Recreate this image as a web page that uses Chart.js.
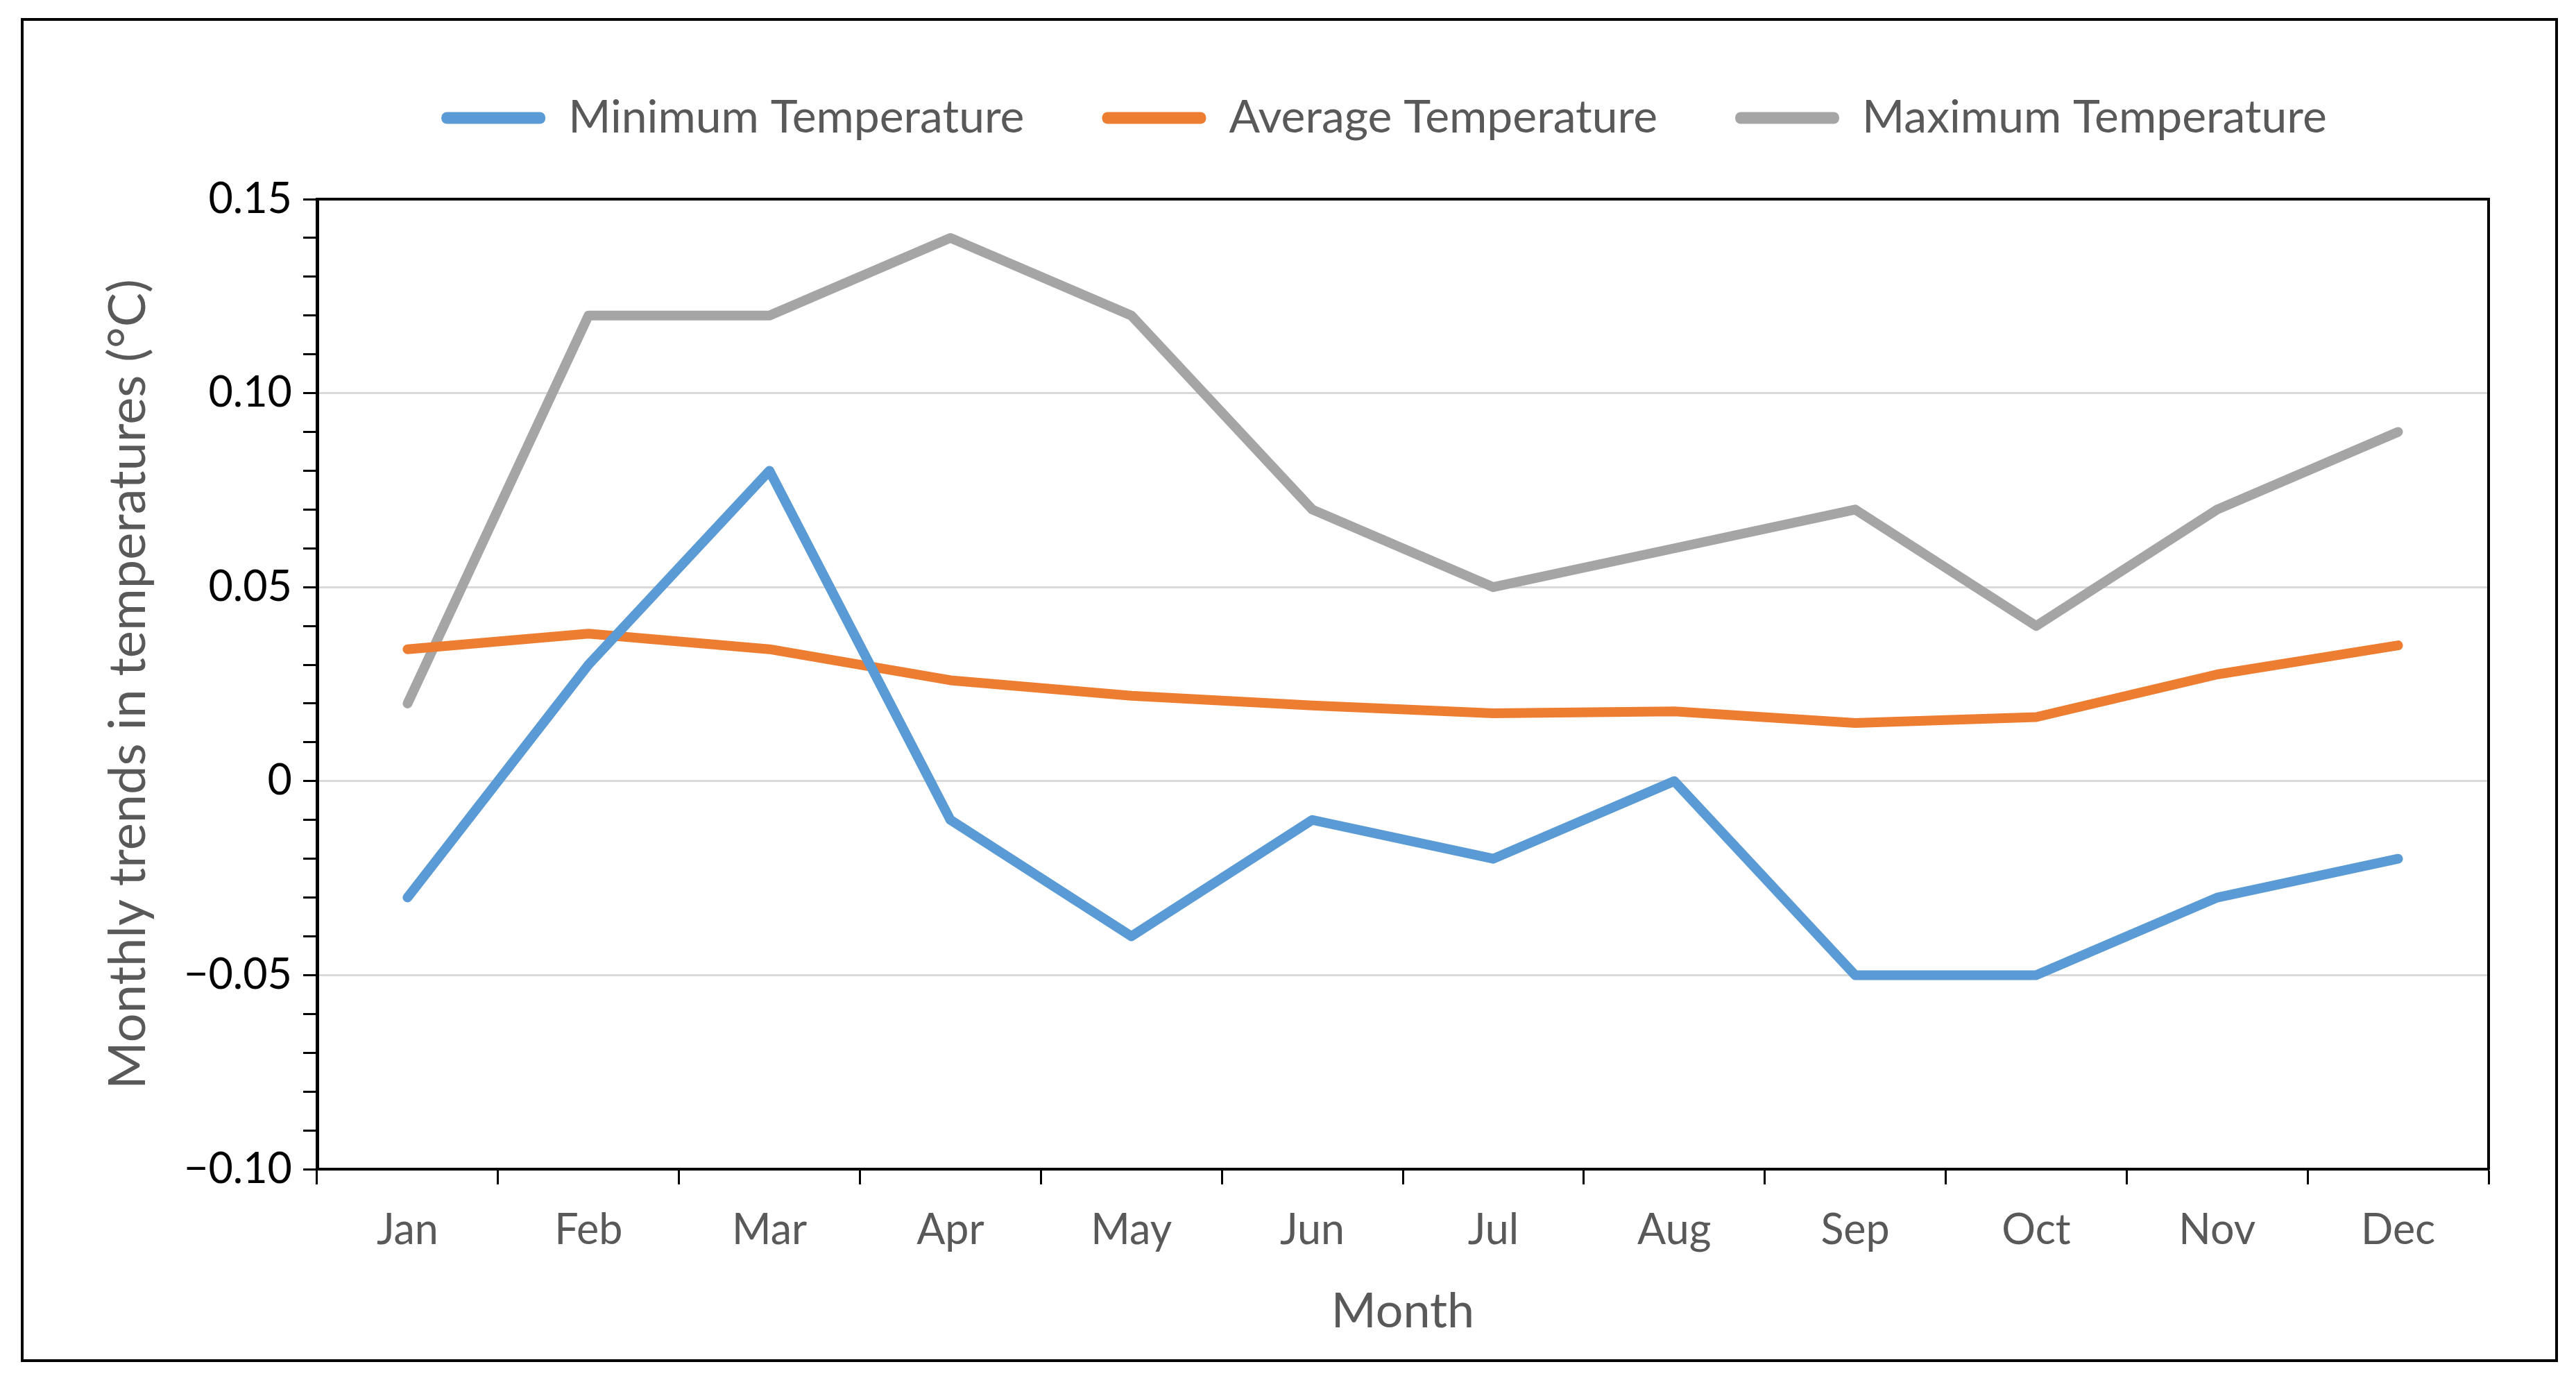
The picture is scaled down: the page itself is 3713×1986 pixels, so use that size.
<!DOCTYPE html>
<html>
<head>
<meta charset="utf-8">
<script src="https://cdn.jsdelivr.net/npm/chart.js@4/dist/chart.umd.min.js"></script>
<style>
  html, body { margin: 0; padding: 0; background: #fff; overflow: hidden; }
  #wrap { position: relative; width: 3713px; height: 1986px; overflow: hidden; }
  #c { position: absolute; left: 0; top: 0; }
  #frame {
    position: absolute; left: 30px; top: 26px; width: 3649px; height: 1929px;
    border: 4px solid #000; pointer-events: none;
  }
</style>
</head>
<body>
<div id="wrap">
  <canvas id="c" width="3849" height="1986" style="width:3849px;height:1986px"></canvas>
  <div id="frame"></div>
</div>
<script>
// data
const months = ['Jan', 'Feb', 'Mar', 'Apr', 'May', 'Jun', 'Jul', 'Aug', 'Sep', 'Oct', 'Nov', 'Dec'];
const minTemp = [-0.03, 0.03, 0.08, -0.01, -0.04, -0.01, -0.02, 0.00, -0.05, -0.05, -0.03, -0.02];
const avgTemp = [0.034, 0.038, 0.034, 0.026, 0.022, 0.0195, 0.0175, 0.018, 0.015, 0.0165, 0.0275, 0.035];
const maxTemp = [0.02, 0.12, 0.12, 0.14, 0.12, 0.07, 0.05, 0.06, 0.07, 0.04, 0.07, 0.09];
const yMin = -0.10, yMax = 0.15, yStep = 0.01;

const FONT = 'Lato, "Open Sans", sans-serif';
const GREY_TXT = '#595959';

function lineSet(label, data, color) {
    return {
        label: label,
        data: data,
        borderColor: color,
        backgroundColor: color,
        borderWidth: 14,
        pointRadius: 0,
        tension: 0,
        borderJoinStyle: 'round',
        borderCapStyle: 'round'
    };
}

// y tick label: only every 0.05 gets a number
function yLabel(value) {
    const v = Math.round(value * 100);
    if (v % 5 !== 0) return '';
    if (v === 0) return '0';
    return (v / 100).toFixed(2).replace('-', '\u2212');
}

const ctx = document.getElementById('c').getContext('2d');
new Chart(ctx, {
    type: 'line',
    data: {
        labels: months,
        datasets: [
            lineSet('Minimum Temperature', minTemp, '#5B9BD5'),
            lineSet('Average Temperature', avgTemp, '#ED7D31'),
            lineSet('Maximum Temperature', maxTemp, '#A5A5A5')
        ]
    },
    options: {
        responsive: false,
        animation: false,
        devicePixelRatio: 1,
        layout: { padding: { left: 141, top: 25, right: 0, bottom: 54 } },
        plugins: {
            tooltip: { enabled: false },
            legend: {
                position: 'top',
                labels: {
                    font: { family: FONT, size: 66 },
                    color: GREY_TXT,
                    boxWidth: 150,
                    boxHeight: 17,
                    padding: 112,
                    useBorderRadius: true,
                    borderRadius: 8,
                    generateLabels(chart) {
                        const items = Chart.defaults.plugins.legend.labels.generateLabels(chart);
                        items.forEach(it => { it.lineWidth = 0; });
                        return items;
                    }
                }
            }
        },
        scales: {
            x: {
                type: 'category',
                position: 'bottom',
                offset: true,
                afterFit: s => { s.height = 247; },
                grid: {
                    offset: true,
                    drawOnChartArea: false,
                    drawTicks: true,
                    tickLength: 22,
                    tickColor: '#000',
                    tickWidth: 3
                },
                border: { display: true, color: '#000', width: 4 },
                ticks: {
                    font: { family: FONT, size: 61 },
                    color: GREY_TXT,
                    padding: 30,
                    maxRotation: 0,
                    autoSkip: false
                },
                title: {
                    display: true,
                    text: 'Month',
                    font: { family: FONT, size: 70 },
                    color: GREY_TXT,
                    padding: { top: 0, bottom: 0 }
                }
            },
            xTop: {
                type: 'category',
                position: 'top',
                afterFit: s => { s.height = 74; },
                grid: { display: false, drawTicks: false },
                border: { display: true, color: '#000', width: 4 },
                ticks: { display: false }
            },
            y: {
                type: 'linear',
                position: 'left',
                min: yMin,
                max: yMax,
                afterFit: s => { s.width = 316; },
                grid: {
                    color: c => {
                        const v = Math.round(c.tick.value * 100);
                        return (v % 5 === 0 && v !== -10 && v !== 15) ? '#D9D9D9' : 'rgba(0,0,0,0)';
                    },
                    lineWidth: 3,
                    drawTicks: true,
                    tickLength: 20,
                    tickColor: '#000',
                    tickWidth: 3
                },
                border: { display: true, color: '#000', width: 5 },
                ticks: {
                    stepSize: yStep,
                    autoSkip: false,
                    font: { family: FONT, size: 61 },
                    color: '#000',
                    padding: 16,
                    callback: yLabel
                },
                title: {
                    display: true,
                    text: 'Monthly trends in temperatures (°C)',
                    font: { family: FONT, size: 74 },
                    color: GREY_TXT,
                    padding: { top: 0, bottom: 0 }
                }
            },
            yRight: {
                type: 'linear',
                position: 'right',
                min: yMin,
                max: yMax,
                afterFit: s => { s.width = 262; },
                grid: { display: false, drawTicks: false },
                border: { display: true, color: '#000', width: 4 },
                ticks: { display: false }
            }
        }
    }
});
</script>
</body>
</html>
